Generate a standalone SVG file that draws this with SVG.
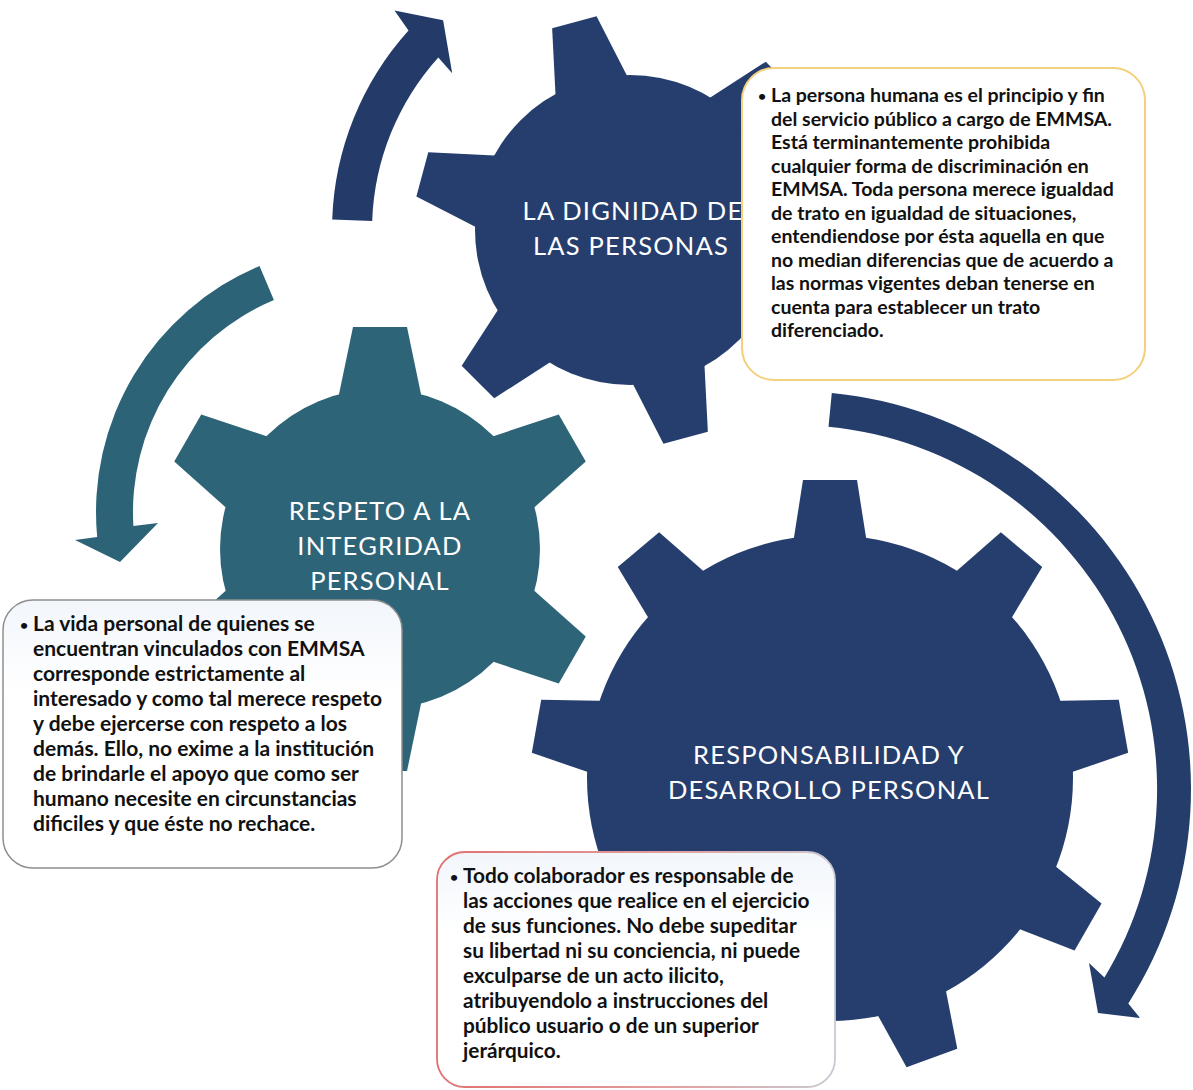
<svg xmlns="http://www.w3.org/2000/svg" xmlns:xlink="http://www.w3.org/1999/xlink" width="1193" height="1090" viewBox="0 0 1193 1090">
<style>
.navy{fill:#263e6d}
.teal{fill:#2e6478}
.lbl{font-family:Lato,"Liberation Sans",sans-serif;font-size:25.5px;fill:#ffffff;text-anchor:middle;letter-spacing:1.2px}
.bt{font-family:Lato,"Liberation Sans",sans-serif;font-weight:700;fill:#111111}
.b1{font-size:19.5px}
.b2{font-size:21px}
.b3{font-size:20.8px}
.bul{font-family:Lato,"Liberation Sans",sans-serif;font-weight:700;fill:#111111;font-size:14px}
.box{fill:#ffffff}
</style>
<defs>
<polygon id="toothTop" points="-38,-145 -23,-215 23,-215 38,-145"/>
<polygon id="toothTeal" points="-42,-150 -27,-222 27,-222 42,-150"/>
<polygon id="toothBig" points="-38,-228 -27,-298 27,-298 38,-228"/>
<linearGradient id="g3" x1="0" y1="0" x2="1" y2="0">
<stop offset="0" stop-color="#e07070"/>
<stop offset="0.6" stop-color="#e3a0a0"/>
<stop offset="1" stop-color="#c9c9d2"/>
</linearGradient>
<linearGradient id="fill2" x1="0" y1="0" x2="0" y2="1">
<stop offset="0" stop-color="#f2f6fb"/>
<stop offset="0.35" stop-color="#ffffff"/>
</linearGradient>
</defs>

<g id="connectors">
<path id="arrow-top" fill="#243b69" d="M 332.2,219.6 A 298 298 0 0 1 408.5,30.6 L 394.5,10.4 L 443.1,20.2 L 452.2,73.3 L 438.3,57.4 A 258 258 0 0 0 372.2,221 Z"/>
<path id="arrow-left" fill="#2c6377" d="M 259.5,265.9 A 267 267 0 0 0 97.2,537.1 L 75,540 L 120,562 L 158,523 L 133.4,526 A 230 230 0 0 1 273.9,300 Z"/>
<path id="arrow-right" fill="#253d6b" d="M 831.8,392.9 A 398 398 0 0 1 1128.3,1003.4 L 1140,1018 L 1098,1013 L 1089,963 L 1104.4,977.6 A 364 364 0 0 0 828.5,426.7 Z"/>
</g>

<g id="gear-respeto">
<g class="teal" transform="translate(380,549)">
<circle r="160"/>
<use xlink:href="#toothTeal"/>
<use xlink:href="#toothTeal" transform="rotate(60)"/>
<use xlink:href="#toothTeal" transform="rotate(120)"/>
<use xlink:href="#toothTeal" transform="rotate(180)"/>
<use xlink:href="#toothTeal" transform="rotate(240)"/>
<use xlink:href="#toothTeal" transform="rotate(300)"/>
</g>
<text class="lbl" x="380" y="520">RESPETO A LA</text>
<text class="lbl" x="380" y="555">INTEGRIDAD</text>
<text class="lbl" x="380" y="590">PERSONAL</text>
</g>

<g id="gear-dignidad">
<g class="navy" transform="translate(630,230)">
<circle r="155"/>
<use xlink:href="#toothTop" transform="rotate(-15)"/>
<use xlink:href="#toothTop" transform="rotate(45)"/>
<use xlink:href="#toothTop" transform="rotate(105)"/>
<use xlink:href="#toothTop" transform="rotate(165)"/>
<use xlink:href="#toothTop" transform="rotate(225)"/>
<use xlink:href="#toothTop" transform="rotate(285)"/>
</g>
<text class="lbl" x="633" y="220">LA DIGNIDAD DE</text>
<text class="lbl" x="631" y="255">LAS PERSONAS</text>
</g>

<g id="gear-responsabilidad">
<g class="navy" transform="translate(830,778)">
<circle r="243"/>
<use xlink:href="#toothBig"/>
<use xlink:href="#toothBig" transform="rotate(40)"/>
<use xlink:href="#toothBig" transform="rotate(80)"/>
<use xlink:href="#toothBig" transform="rotate(120)"/>
<use xlink:href="#toothBig" transform="rotate(160)"/>
<use xlink:href="#toothBig" transform="rotate(200)"/>
<use xlink:href="#toothBig" transform="rotate(240)"/>
<use xlink:href="#toothBig" transform="rotate(280)"/>
<use xlink:href="#toothBig" transform="rotate(320)"/>
</g>
<text class="lbl" x="829" y="764">RESPONSABILIDAD Y</text>
<text class="lbl" x="829" y="799">DESARROLLO PERSONAL</text>
</g>

<g id="box-dignidad">
<rect class="box" x="742" y="68" width="403" height="312" rx="32" stroke="#f2d07c" stroke-width="2"/>
<text class="bul" x="758" y="101">•</text>
<text class="bt b1" x="771" y="102">La persona humana es el principio y fin</text>
<text class="bt b1" x="771" y="125.5">del servicio público a cargo de EMMSA.</text>
<text class="bt b1" x="771" y="149">Está terminantemente prohibida</text>
<text class="bt b1" x="771" y="172.5">cualquier forma de discriminación en</text>
<text class="bt b1" x="771" y="196">EMMSA. Toda persona merece igualdad</text>
<text class="bt b1" x="771" y="219.5">de trato en igualdad de situaciones,</text>
<text class="bt b1" x="771" y="243">entendiendose por ésta aquella en que</text>
<text class="bt b1" x="771" y="266.5">no median diferencias que de acuerdo a</text>
<text class="bt b1" x="771" y="290">las normas vigentes deban tenerse en</text>
<text class="bt b1" x="771" y="313.5">cuenta para establecer un trato</text>
<text class="bt b1" x="771" y="337">diferenciado.</text>
</g>

<g id="box-respeto">
<rect x="3" y="600" width="399" height="268" rx="30" fill="url(#fill2)" stroke="#8e8e8e" stroke-width="1.5"/>
<text class="bul" x="20" y="630">•</text>
<text class="bt b2" x="33" y="631">La vida personal de quienes se</text>
<text class="bt b2" x="33" y="656">encuentran vinculados con EMMSA</text>
<text class="bt b2" x="33" y="681">corresponde estrictamente al</text>
<text class="bt b2" x="33" y="706">interesado y como tal merece respeto</text>
<text class="bt b2" x="33" y="731">y debe ejercerse con respeto  a los</text>
<text class="bt b2" x="33" y="756">demás. Ello, no exime a la institución</text>
<text class="bt b2" x="33" y="781">de brindarle el apoyo que como ser</text>
<text class="bt b2" x="33" y="806">humano necesite en circunstancias</text>
<text class="bt b2" x="33" y="831">dificiles y que éste no rechace.</text>
</g>

<g id="box-responsabilidad">
<rect x="437" y="852" width="398" height="235" rx="28" fill="url(#fill2)" stroke="url(#g3)" stroke-width="1.8"/>
<text class="bul" x="450" y="882">•</text>
<text class="bt b3" x="463" y="883">Todo colaborador es responsable de</text>
<text class="bt b3" x="463" y="908">las acciones que realice en el ejercicio</text>
<text class="bt b3" x="463" y="933">de sus funciones. No debe supeditar</text>
<text class="bt b3" x="463" y="958">su libertad ni su conciencia, ni puede</text>
<text class="bt b3" x="463" y="983">exculparse de un acto ilicito,</text>
<text class="bt b3" x="463" y="1008">atribuyendolo a instrucciones del</text>
<text class="bt b3" x="463" y="1033">público usuario o de un superior</text>
<text class="bt b3" x="463" y="1058">jerárquico.</text>
</g>
</svg>
